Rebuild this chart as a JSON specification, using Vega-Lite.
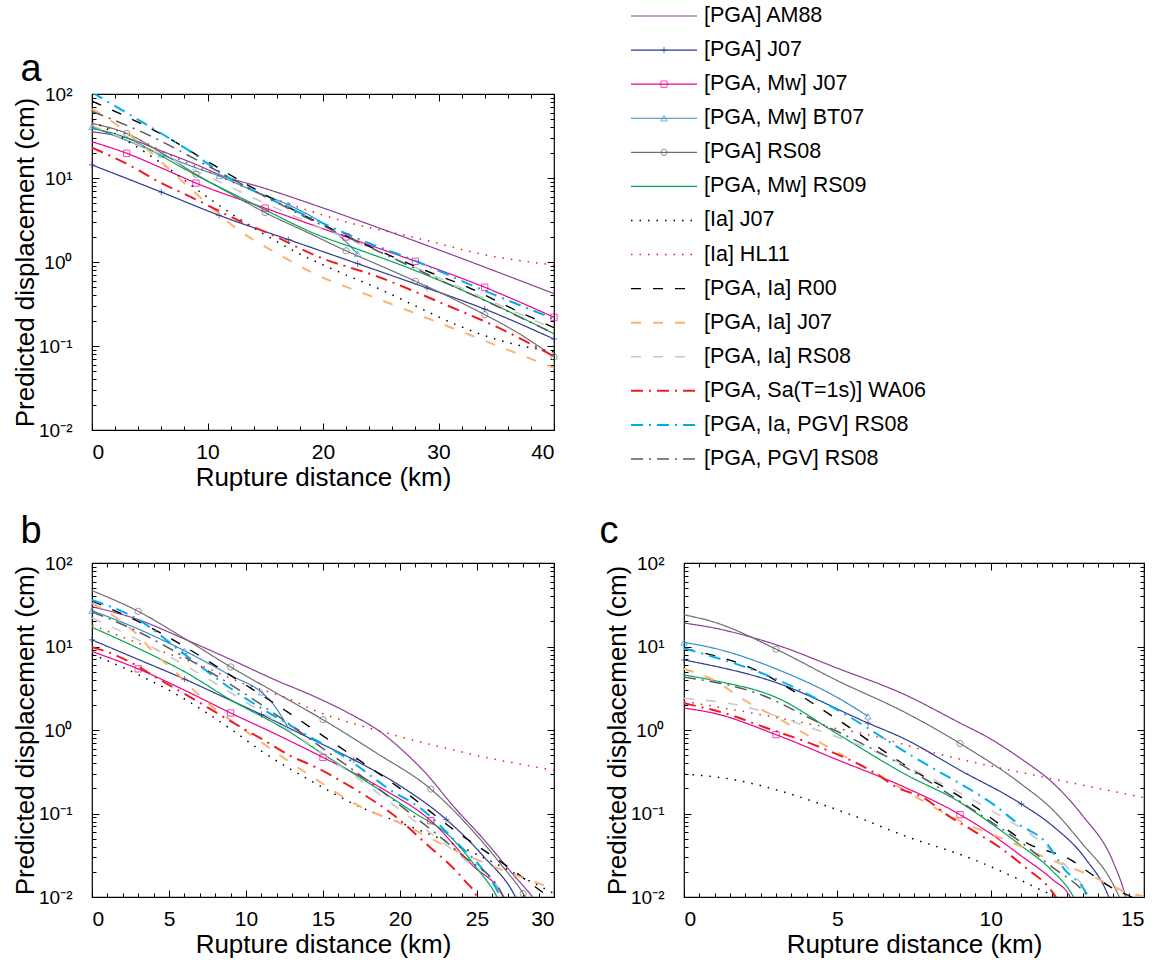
{
"$schema": "https://vega.github.io/schema/vega-lite/v6.json",
"padding": {"left": 11, "top": 4, "right": 5, "bottom": 0},
"config": {
  "view": {"stroke": "#000", "strokeWidth": 1.2},
  "axis": {"labelFont": "Liberation Sans", "labelFontSize": 21, "labelColor": "#000", "titleFont": "Liberation Sans", "titleFontSize": 26, "titleFontWeight": "normal", "titleColor": "#000", "tickColor": "#000", "grid": false, "domain": false, "labelOverlap": false},
  "title": {"font": "Liberation Sans", "fontSize": 38, "fontWeight": "normal", "color": "#000"}
},
"datasets": {
  "legend": [
    {"s": "AM88", "label": "[PGA] AM88"},
    {"s": "J07", "label": "[PGA] J07"},
    {"s": "MwJ07", "label": "[PGA, Mw] J07"},
    {"s": "BT07", "label": "[PGA, Mw] BT07"},
    {"s": "RS08", "label": "[PGA] RS08"},
    {"s": "RS09", "label": "[PGA, Mw] RS09"},
    {"s": "IaJ07", "label": "[Ia] J07"},
    {"s": "HL11", "label": "[Ia] HL11"},
    {"s": "R00", "label": "[PGA, Ia] R00"},
    {"s": "PIaJ07", "label": "[PGA, Ia] J07"},
    {"s": "PIaRS08", "label": "[PGA, Ia] RS08"},
    {"s": "WA06", "label": "[PGA, Sa(T=1s)] WA06"},
    {"s": "PIaPGVRS08", "label": "[PGA, Ia, PGV] RS08"},
    {"s": "PGVRS08", "label": "[PGA, PGV] RS08"}
  ],
  "markers": [
    {"p":"a","s":"J07","x":0,"y":14.3},{"p":"a","s":"J07","x":6,"y":6.8},{"p":"a","s":"J07","x":11,"y":3.6},{"p":"a","s":"J07","x":17,"y":1.85},{"p":"a","s":"J07","x":23,"y":0.955},{"p":"a","s":"J07","x":29,"y":0.49},{"p":"a","s":"J07","x":34,"y":0.275},{"p":"a","s":"J07","x":40,"y":0.121},
    {"p":"a","s":"MwJ07","x":3,"y":19.7},{"p":"a","s":"MwJ07","x":9,"y":8.7},{"p":"a","s":"MwJ07","x":15,"y":4.37},{"p":"a","s":"MwJ07","x":22,"y":1.99},{"p":"a","s":"MwJ07","x":28,"y":1.02},{"p":"a","s":"MwJ07","x":34,"y":0.5},{"p":"a","s":"MwJ07","x":40,"y":0.22},
    {"p":"a","s":"BT07","x":0,"y":40.8},{"p":"a","s":"BT07","x":6,"y":19.1},{"p":"a","s":"BT07","x":11,"y":10.6},{"p":"a","s":"BT07","x":17,"y":4.8},{"p":"a","s":"BT07","x":23,"y":1.25},
    {"p":"a","s":"RS08","x":3,"y":34},{"p":"a","s":"RS08","x":9,"y":11.1},{"p":"a","s":"RS08","x":15,"y":3.87},{"p":"a","s":"RS08","x":22,"y":1.36},{"p":"a","s":"RS08","x":28,"y":0.59},{"p":"a","s":"RS08","x":34,"y":0.236},{"p":"a","s":"RS08","x":40,"y":0.074},
    {"p":"b","s":"J07","x":0,"y":12},{"p":"b","s":"J07","x":6,"y":4.08},{"p":"b","s":"J07","x":11,"y":1.53},{"p":"b","s":"J07","x":17,"y":0.44},{"p":"b","s":"J07","x":23,"y":0.085},
    {"p":"b","s":"MwJ07","x":3,"y":5.4},{"p":"b","s":"MwJ07","x":9,"y":1.6},{"p":"b","s":"MwJ07","x":15,"y":0.47},{"p":"b","s":"MwJ07","x":22,"y":0.082},
    {"p":"b","s":"BT07","x":0,"y":26.9},{"p":"b","s":"BT07","x":6,"y":8.9},{"p":"b","s":"BT07","x":11,"y":2.83},
    {"p":"b","s":"RS08","x":3,"y":26.4},{"p":"b","s":"RS08","x":9,"y":5.7},{"p":"b","s":"RS08","x":15,"y":1.33},{"p":"b","s":"RS08","x":22,"y":0.196},{"p":"b","s":"RS08","x":28,"y":0.011},
    {"p":"c","s":"J07","x":0,"y":6.9},{"p":"c","s":"J07","x":6,"y":1.21},{"p":"c","s":"J07","x":11,"y":0.13},
    {"p":"c","s":"MwJ07","x":3,"y":0.88},{"p":"c","s":"MwJ07","x":9,"y":0.097},
    {"p":"c","s":"BT07","x":0,"y":11.2},{"p":"c","s":"BT07","x":6,"y":1.46},
    {"p":"c","s":"RS08","x":3,"y":9.3},{"p":"c","s":"RS08","x":9,"y":0.69}
  ],
  "lines": [
    {"p":"a","s":"AM88","x":0,"y":35.5},{"p":"a","s":"AM88","x":3,"y":30},{"p":"a","s":"AM88","x":6,"y":21},{"p":"a","s":"AM88","x":9,"y":14.5},{"p":"a","s":"AM88","x":11,"y":11},{"p":"a","s":"AM88","x":15,"y":7.5},{"p":"a","s":"AM88","x":20,"y":4.4},{"p":"a","s":"AM88","x":25,"y":2.5},{"p":"a","s":"AM88","x":30,"y":1.4},{"p":"a","s":"AM88","x":35,"y":0.77},{"p":"a","s":"AM88","x":40,"y":0.42},
    {"p":"a","s":"J07","x":0,"y":14.3},{"p":"a","s":"J07","x":6,"y":6.8},{"p":"a","s":"J07","x":11,"y":3.6},{"p":"a","s":"J07","x":17,"y":1.85},{"p":"a","s":"J07","x":23,"y":0.955},{"p":"a","s":"J07","x":29,"y":0.49},{"p":"a","s":"J07","x":34,"y":0.275},{"p":"a","s":"J07","x":40,"y":0.121},
    {"p":"a","s":"MwJ07","x":0,"y":27},{"p":"a","s":"MwJ07","x":3,"y":19.7},{"p":"a","s":"MwJ07","x":6,"y":13.2},{"p":"a","s":"MwJ07","x":9,"y":8.7},{"p":"a","s":"MwJ07","x":15,"y":4.37},{"p":"a","s":"MwJ07","x":22,"y":1.99},{"p":"a","s":"MwJ07","x":28,"y":1.02},{"p":"a","s":"MwJ07","x":34,"y":0.5},{"p":"a","s":"MwJ07","x":40,"y":0.22},
    {"p":"a","s":"BT07","x":0,"y":40.8},{"p":"a","s":"BT07","x":3,"y":28},{"p":"a","s":"BT07","x":6,"y":19.1},{"p":"a","s":"BT07","x":9,"y":13.2},{"p":"a","s":"BT07","x":11,"y":10.6},{"p":"a","s":"BT07","x":14,"y":7.0},{"p":"a","s":"BT07","x":17,"y":4.8},{"p":"a","s":"BT07","x":19.3,"y":3.3},{"p":"a","s":"BT07","x":21,"y":2.3},{"p":"a","s":"BT07","x":22.1,"y":1.68},{"p":"a","s":"BT07","x":23,"y":1.25},
    {"p":"a","s":"RS08","x":0,"y":44.6},{"p":"a","s":"RS08","x":3,"y":34},{"p":"a","s":"RS08","x":6,"y":20},{"p":"a","s":"RS08","x":9,"y":11.1},{"p":"a","s":"RS08","x":12,"y":6.5},{"p":"a","s":"RS08","x":15,"y":3.87},{"p":"a","s":"RS08","x":18.5,"y":2.3},{"p":"a","s":"RS08","x":22,"y":1.36},{"p":"a","s":"RS08","x":25,"y":0.9},{"p":"a","s":"RS08","x":28,"y":0.59},{"p":"a","s":"RS08","x":31,"y":0.38},{"p":"a","s":"RS08","x":34,"y":0.236},{"p":"a","s":"RS08","x":37,"y":0.14},{"p":"a","s":"RS08","x":40,"y":0.074},
    {"p":"a","s":"RS09","x":0,"y":39},{"p":"a","s":"RS09","x":3,"y":30},{"p":"a","s":"RS09","x":6,"y":18.3},{"p":"a","s":"RS09","x":9,"y":10.8},{"p":"a","s":"RS09","x":12,"y":6.7},{"p":"a","s":"RS09","x":15,"y":4.17},{"p":"a","s":"RS09","x":19.3,"y":2.17},{"p":"a","s":"RS09","x":23,"y":1.42},{"p":"a","s":"RS09","x":27.8,"y":0.81},{"p":"a","s":"RS09","x":33.9,"y":0.356},{"p":"a","s":"RS09","x":40,"y":0.14},
    {"p":"a","s":"IaJ07","x":0,"y":48},{"p":"a","s":"IaJ07","x":3,"y":28},{"p":"a","s":"IaJ07","x":6,"y":15},{"p":"a","s":"IaJ07","x":10,"y":5.9},{"p":"a","s":"IaJ07","x":13,"y":3.1},{"p":"a","s":"IaJ07","x":15,"y":2.1},{"p":"a","s":"IaJ07","x":17.5,"y":1.35},{"p":"a","s":"IaJ07","x":21.5,"y":0.75},{"p":"a","s":"IaJ07","x":25,"y":0.47},{"p":"a","s":"IaJ07","x":28,"y":0.3},{"p":"a","s":"IaJ07","x":31.5,"y":0.18},{"p":"a","s":"IaJ07","x":35,"y":0.12},{"p":"a","s":"IaJ07","x":40,"y":0.085},
    {"p":"a","s":"HL11","x":0,"y":45},{"p":"a","s":"HL11","x":3.3,"y":32},{"p":"a","s":"HL11","x":7,"y":18},{"p":"a","s":"HL11","x":10,"y":12},{"p":"a","s":"HL11","x":15,"y":6.2},{"p":"a","s":"HL11","x":19,"y":4.0},{"p":"a","s":"HL11","x":22,"y":3.0},{"p":"a","s":"HL11","x":28,"y":1.95},{"p":"a","s":"HL11","x":34,"y":1.22},{"p":"a","s":"HL11","x":40,"y":0.92},
    {"p":"a","s":"R00","x":0,"y":82},{"p":"a","s":"R00","x":3.6,"y":49},{"p":"a","s":"R00","x":6.6,"y":30},{"p":"a","s":"R00","x":9.6,"y":17},{"p":"a","s":"R00","x":13,"y":9},{"p":"a","s":"R00","x":18,"y":3.8},{"p":"a","s":"R00","x":24.5,"y":1.43},{"p":"a","s":"R00","x":29.4,"y":0.74},{"p":"a","s":"R00","x":32,"y":0.54},{"p":"a","s":"R00","x":36.6,"y":0.27},{"p":"a","s":"R00","x":40,"y":0.165},
    {"p":"a","s":"PIaJ07","x":0,"y":66},{"p":"a","s":"PIaJ07","x":1,"y":55},{"p":"a","s":"PIaJ07","x":4.5,"y":23.6},{"p":"a","s":"PIaJ07","x":8.6,"y":7.3},{"p":"a","s":"PIaJ07","x":12.4,"y":2.57},{"p":"a","s":"PIaJ07","x":16.5,"y":1.16},{"p":"a","s":"PIaJ07","x":19.6,"y":0.69},{"p":"a","s":"PIaJ07","x":24,"y":0.4},{"p":"a","s":"PIaJ07","x":28,"y":0.244},{"p":"a","s":"PIaJ07","x":32,"y":0.148},{"p":"a","s":"PIaJ07","x":36,"y":0.09},{"p":"a","s":"PIaJ07","x":40,"y":0.055},
    {"p":"a","s":"PIaRS08","x":0,"y":42},{"p":"a","s":"PIaRS08","x":5,"y":22},{"p":"a","s":"PIaRS08","x":10,"y":10.5},{"p":"a","s":"PIaRS08","x":15,"y":5},{"p":"a","s":"PIaRS08","x":20,"y":2.5},{"p":"a","s":"PIaRS08","x":25,"y":1.3},{"p":"a","s":"PIaRS08","x":30,"y":0.65},{"p":"a","s":"PIaRS08","x":35,"y":0.32},{"p":"a","s":"PIaRS08","x":40,"y":0.16},
    {"p":"a","s":"WA06","x":0,"y":23},{"p":"a","s":"WA06","x":3.5,"y":13.6},{"p":"a","s":"WA06","x":5.8,"y":9},{"p":"a","s":"WA06","x":8.4,"y":6.1},{"p":"a","s":"WA06","x":13.1,"y":2.94},{"p":"a","s":"WA06","x":15.6,"y":2.1},{"p":"a","s":"WA06","x":19.3,"y":1.2},{"p":"a","s":"WA06","x":25,"y":0.65},{"p":"a","s":"WA06","x":30.6,"y":0.31},{"p":"a","s":"WA06","x":35,"y":0.17},{"p":"a","s":"WA06","x":40,"y":0.075},
    {"p":"a","s":"PIaPGVRS08","x":0,"y":105},{"p":"a","s":"PIaPGVRS08","x":0.8,"y":90},{"p":"a","s":"PIaPGVRS08","x":5.4,"y":38},{"p":"a","s":"PIaPGVRS08","x":8,"y":23},{"p":"a","s":"PIaPGVRS08","x":12,"y":9.8},{"p":"a","s":"PIaPGVRS08","x":14.6,"y":6.4},{"p":"a","s":"PIaPGVRS08","x":19.3,"y":3.2},{"p":"a","s":"PIaPGVRS08","x":23,"y":1.9},{"p":"a","s":"PIaPGVRS08","x":27.8,"y":1.06},{"p":"a","s":"PIaPGVRS08","x":33.9,"y":0.46},{"p":"a","s":"PIaPGVRS08","x":40,"y":0.21},
    {"p":"a","s":"PGVRS08","x":0,"y":62},{"p":"a","s":"PGVRS08","x":5,"y":32},{"p":"a","s":"PGVRS08","x":10,"y":14},{"p":"a","s":"PGVRS08","x":15,"y":6},{"p":"a","s":"PGVRS08","x":20,"y":2.7},{"p":"a","s":"PGVRS08","x":25,"y":1.3},{"p":"a","s":"PGVRS08","x":30,"y":0.62},{"p":"a","s":"PGVRS08","x":35,"y":0.3},{"p":"a","s":"PGVRS08","x":40,"y":0.14},

    {"p":"b","s":"AM88","x":0,"y":30},{"p":"b","s":"AM88","x":3,"y":21},{"p":"b","s":"AM88","x":6,"y":12.3},{"p":"b","s":"AM88","x":9,"y":7},{"p":"b","s":"AM88","x":12,"y":3.9},{"p":"b","s":"AM88","x":14.55,"y":2.47},{"p":"b","s":"AM88","x":16.7,"y":1.58},{"p":"b","s":"AM88","x":18.9,"y":0.9},{"p":"b","s":"AM88","x":20.5,"y":0.5},{"p":"b","s":"AM88","x":21.7,"y":0.3},{"p":"b","s":"AM88","x":23.5,"y":0.12},{"p":"b","s":"AM88","x":25.4,"y":0.05},{"p":"b","s":"AM88","x":27.3,"y":0.019},{"p":"b","s":"AM88","x":28.7,"y":0.0095},{"p":"b","s":"AM88","x":29.2,"y":0.007},
    {"p":"b","s":"J07","x":0,"y":12},{"p":"b","s":"J07","x":3,"y":7.0},{"p":"b","s":"J07","x":6,"y":4.08},{"p":"b","s":"J07","x":8.5,"y":2.5},{"p":"b","s":"J07","x":11,"y":1.53},{"p":"b","s":"J07","x":14,"y":0.82},{"p":"b","s":"J07","x":17,"y":0.44},{"p":"b","s":"J07","x":20,"y":0.215},{"p":"b","s":"J07","x":23,"y":0.085},{"p":"b","s":"J07","x":25.4,"y":0.031},{"p":"b","s":"J07","x":27.5,"y":0.01},{"p":"b","s":"J07","x":27.9,"y":0.007},
    {"p":"b","s":"MwJ07","x":0,"y":8.7},{"p":"b","s":"MwJ07","x":3,"y":5.4},{"p":"b","s":"MwJ07","x":6,"y":3.0},{"p":"b","s":"MwJ07","x":9,"y":1.6},{"p":"b","s":"MwJ07","x":12,"y":0.88},{"p":"b","s":"MwJ07","x":15,"y":0.47},{"p":"b","s":"MwJ07","x":18.9,"y":0.196},{"p":"b","s":"MwJ07","x":22,"y":0.082},{"p":"b","s":"MwJ07","x":24.7,"y":0.024},{"p":"b","s":"MwJ07","x":26.7,"y":0.01},{"p":"b","s":"MwJ07","x":27,"y":0.007},
    {"p":"b","s":"BT07","x":0,"y":26.9},{"p":"b","s":"BT07","x":3,"y":16.2},{"p":"b","s":"BT07","x":6,"y":8.9},{"p":"b","s":"BT07","x":9,"y":4.5},{"p":"b","s":"BT07","x":11,"y":2.83},{"p":"b","s":"BT07","x":11.8,"y":2.0},{"p":"b","s":"BT07","x":12.7,"y":1.1},
    {"p":"b","s":"RS08","x":0,"y":46.7},{"p":"b","s":"RS08","x":3,"y":26.4},{"p":"b","s":"RS08","x":6,"y":12.5},{"p":"b","s":"RS08","x":9,"y":5.7},{"p":"b","s":"RS08","x":12,"y":2.75},{"p":"b","s":"RS08","x":15,"y":1.33},{"p":"b","s":"RS08","x":18.4,"y":0.54},{"p":"b","s":"RS08","x":22,"y":0.196},{"p":"b","s":"RS08","x":24.9,"y":0.057},{"p":"b","s":"RS08","x":26.6,"y":0.024},{"p":"b","s":"RS08","x":28,"y":0.011},{"p":"b","s":"RS08","x":28.6,"y":0.007},
    {"p":"b","s":"RS09","x":0,"y":17},{"p":"b","s":"RS09","x":3,"y":9.5},{"p":"b","s":"RS09","x":6,"y":5.0},{"p":"b","s":"RS09","x":9,"y":2.3},{"p":"b","s":"RS09","x":12.7,"y":0.98},{"p":"b","s":"RS09","x":14.7,"y":0.56},{"p":"b","s":"RS09","x":18.9,"y":0.18},{"p":"b","s":"RS09","x":21,"y":0.1},{"p":"b","s":"RS09","x":23.2,"y":0.054},{"p":"b","s":"RS09","x":25,"y":0.022},{"p":"b","s":"RS09","x":26.3,"y":0.01},{"p":"b","s":"RS09","x":26.7,"y":0.007},
    {"p":"b","s":"IaJ07","x":0,"y":8.1},{"p":"b","s":"IaJ07","x":3,"y":4.6},{"p":"b","s":"IaJ07","x":5.6,"y":2.6},{"p":"b","s":"IaJ07","x":9,"y":1.03},{"p":"b","s":"IaJ07","x":11,"y":0.56},{"p":"b","s":"IaJ07","x":14.5,"y":0.23},{"p":"b","s":"IaJ07","x":17,"y":0.13},{"p":"b","s":"IaJ07","x":21,"y":0.066},{"p":"b","s":"IaJ07","x":24.9,"y":0.033},{"p":"b","s":"IaJ07","x":27.5,"y":0.019},{"p":"b","s":"IaJ07","x":30,"y":0.011},
    {"p":"b","s":"HL11","x":0,"y":18},{"p":"b","s":"HL11","x":3,"y":11},{"p":"b","s":"HL11","x":7,"y":6},{"p":"b","s":"HL11","x":10,"y":3.5},{"p":"b","s":"HL11","x":12.7,"y":2.4},{"p":"b","s":"HL11","x":14.5,"y":1.7},{"p":"b","s":"HL11","x":18.6,"y":0.98},{"p":"b","s":"HL11","x":21,"y":0.745},{"p":"b","s":"HL11","x":23.4,"y":0.58},{"p":"b","s":"HL11","x":25.8,"y":0.46},{"p":"b","s":"HL11","x":30,"y":0.33},
    {"p":"b","s":"R00","x":0,"y":35},{"p":"b","s":"R00","x":3,"y":20},{"p":"b","s":"R00","x":6,"y":10},{"p":"b","s":"R00","x":9,"y":4.5},{"p":"b","s":"R00","x":12,"y":2.0},{"p":"b","s":"R00","x":15,"y":0.85},{"p":"b","s":"R00","x":18,"y":0.36},{"p":"b","s":"R00","x":20,"y":0.2},{"p":"b","s":"R00","x":23.7,"y":0.06},{"p":"b","s":"R00","x":26.6,"y":0.026},{"p":"b","s":"R00","x":30,"y":0.009},
    {"p":"b","s":"PIaJ07","x":0,"y":33},{"p":"b","s":"PIaJ07","x":1.9,"y":20},{"p":"b","s":"PIaJ07","x":3,"y":13.5},{"p":"b","s":"PIaJ07","x":4.1,"y":8.1},{"p":"b","s":"PIaJ07","x":5.4,"y":5.0},{"p":"b","s":"PIaJ07","x":6.6,"y":3.0},{"p":"b","s":"PIaJ07","x":7.9,"y":1.84},{"p":"b","s":"PIaJ07","x":9.05,"y":1.29},{"p":"b","s":"PIaJ07","x":10.3,"y":0.88},{"p":"b","s":"PIaJ07","x":14.5,"y":0.26},{"p":"b","s":"PIaJ07","x":17.1,"y":0.13},{"p":"b","s":"PIaJ07","x":20.4,"y":0.071},{"p":"b","s":"PIaJ07","x":23.2,"y":0.039},{"p":"b","s":"PIaJ07","x":26.5,"y":0.0216},{"p":"b","s":"PIaJ07","x":30,"y":0.0125},
    {"p":"b","s":"PIaRS08","x":0,"y":22},{"p":"b","s":"PIaRS08","x":3,"y":12},{"p":"b","s":"PIaRS08","x":6,"y":6},{"p":"b","s":"PIaRS08","x":9,"y":2.8},{"p":"b","s":"PIaRS08","x":12,"y":1.25},{"p":"b","s":"PIaRS08","x":15,"y":0.52},{"p":"b","s":"PIaRS08","x":18,"y":0.21},{"p":"b","s":"PIaRS08","x":21,"y":0.08},{"p":"b","s":"PIaRS08","x":24,"y":0.03},{"p":"b","s":"PIaRS08","x":26.5,"y":0.012},{"p":"b","s":"PIaRS08","x":27,"y":0.008},
    {"p":"b","s":"WA06","x":0,"y":9.8},{"p":"b","s":"WA06","x":0.93,"y":8.7},{"p":"b","s":"WA06","x":2.7,"y":6.2},{"p":"b","s":"WA06","x":4.3,"y":4.1},{"p":"b","s":"WA06","x":6.1,"y":2.65},{"p":"b","s":"WA06","x":9.6,"y":1.1},{"p":"b","s":"WA06","x":11.3,"y":0.73},{"p":"b","s":"WA06","x":12.7,"y":0.51},{"p":"b","s":"WA06","x":14.5,"y":0.36},{"p":"b","s":"WA06","x":16.7,"y":0.215},{"p":"b","s":"WA06","x":19.9,"y":0.086},{"p":"b","s":"WA06","x":21.6,"y":0.045},{"p":"b","s":"WA06","x":24.2,"y":0.0157},{"p":"b","s":"WA06","x":25,"y":0.01},{"p":"b","s":"WA06","x":25.3,"y":0.007},
    {"p":"b","s":"PIaPGVRS08","x":0,"y":36},{"p":"b","s":"PIaPGVRS08","x":3,"y":21},{"p":"b","s":"PIaPGVRS08","x":6,"y":8.1},{"p":"b","s":"PIaPGVRS08","x":9.05,"y":3.1},{"p":"b","s":"PIaPGVRS08","x":11.5,"y":1.6},{"p":"b","s":"PIaPGVRS08","x":14.2,"y":0.82},{"p":"b","s":"PIaPGVRS08","x":16.3,"y":0.49},{"p":"b","s":"PIaPGVRS08","x":19.6,"y":0.18},{"p":"b","s":"PIaPGVRS08","x":21.1,"y":0.124},{"p":"b","s":"PIaPGVRS08","x":23.9,"y":0.041},{"p":"b","s":"PIaPGVRS08","x":25.4,"y":0.021},{"p":"b","s":"PIaPGVRS08","x":26.5,"y":0.01},{"p":"b","s":"PIaPGVRS08","x":26.8,"y":0.007},
    {"p":"b","s":"PGVRS08","x":0,"y":26},{"p":"b","s":"PGVRS08","x":3,"y":15},{"p":"b","s":"PGVRS08","x":6,"y":7.5},{"p":"b","s":"PGVRS08","x":9,"y":3.5},{"p":"b","s":"PGVRS08","x":12,"y":1.5},{"p":"b","s":"PGVRS08","x":15,"y":0.6},{"p":"b","s":"PGVRS08","x":18,"y":0.24},{"p":"b","s":"PGVRS08","x":21,"y":0.09},{"p":"b","s":"PGVRS08","x":24,"y":0.032},{"p":"b","s":"PGVRS08","x":26.5,"y":0.012},{"p":"b","s":"PGVRS08","x":27,"y":0.008},

    {"p":"c","s":"AM88","x":0,"y":19.1},{"p":"c","s":"AM88","x":1,"y":16.6},{"p":"c","s":"AM88","x":3,"y":10.5},{"p":"c","s":"AM88","x":5,"y":5.5},{"p":"c","s":"AM88","x":7.2,"y":2.65},{"p":"c","s":"AM88","x":8.95,"y":1.24},{"p":"c","s":"AM88","x":10,"y":0.78},{"p":"c","s":"AM88","x":11,"y":0.45},{"p":"c","s":"AM88","x":12,"y":0.237},{"p":"c","s":"AM88","x":13,"y":0.094},{"p":"c","s":"AM88","x":14,"y":0.026},{"p":"c","s":"AM88","x":14.4,"y":0.01},{"p":"c","s":"AM88","x":14.5,"y":0.007},
    {"p":"c","s":"J07","x":0,"y":6.9},{"p":"c","s":"J07","x":3,"y":3.7},{"p":"c","s":"J07","x":6,"y":1.21},{"p":"c","s":"J07","x":7.2,"y":0.78},{"p":"c","s":"J07","x":9,"y":0.33},{"p":"c","s":"J07","x":11,"y":0.13},{"p":"c","s":"J07","x":12,"y":0.072},{"p":"c","s":"J07","x":13.1,"y":0.0285},{"p":"c","s":"J07","x":13.85,"y":0.01},{"p":"c","s":"J07","x":14,"y":0.007},
    {"p":"c","s":"MwJ07","x":0,"y":1.83},{"p":"c","s":"MwJ07","x":1,"y":1.58},{"p":"c","s":"MwJ07","x":3,"y":0.88},{"p":"c","s":"MwJ07","x":5,"y":0.44},{"p":"c","s":"MwJ07","x":7.2,"y":0.206},{"p":"c","s":"MwJ07","x":9,"y":0.097},{"p":"c","s":"MwJ07","x":10.1,"y":0.054},{"p":"c","s":"MwJ07","x":11,"y":0.031},{"p":"c","s":"MwJ07","x":12,"y":0.0164},{"p":"c","s":"MwJ07","x":12.6,"y":0.01},{"p":"c","s":"MwJ07","x":12.8,"y":0.007},
    {"p":"c","s":"BT07","x":0,"y":11.2},{"p":"c","s":"BT07","x":1,"y":9.5},{"p":"c","s":"BT07","x":3,"y":5.4},{"p":"c","s":"BT07","x":5,"y":2.45},{"p":"c","s":"BT07","x":6,"y":1.46},
    {"p":"c","s":"RS08","x":0,"y":24},{"p":"c","s":"RS08","x":1,"y":19.5},{"p":"c","s":"RS08","x":3,"y":9.3},{"p":"c","s":"RS08","x":5,"y":3.9},{"p":"c","s":"RS08","x":7.2,"y":1.63},{"p":"c","s":"RS08","x":9,"y":0.69},{"p":"c","s":"RS08","x":11,"y":0.225},{"p":"c","s":"RS08","x":12,"y":0.113},{"p":"c","s":"RS08","x":13,"y":0.043},{"p":"c","s":"RS08","x":13.9,"y":0.0164},{"p":"c","s":"RS08","x":14.2,"y":0.01},{"p":"c","s":"RS08","x":14.4,"y":0.007},
    {"p":"c","s":"RS09","x":0,"y":4.56},{"p":"c","s":"RS09","x":1,"y":3.9},{"p":"c","s":"RS09","x":3,"y":2.46},{"p":"c","s":"RS09","x":5,"y":0.9},{"p":"c","s":"RS09","x":7.2,"y":0.297},{"p":"c","s":"RS09","x":9,"y":0.136},{"p":"c","s":"RS09","x":10.1,"y":0.072},{"p":"c","s":"RS09","x":11,"y":0.041},{"p":"c","s":"RS09","x":12,"y":0.0207},{"p":"c","s":"RS09","x":12.7,"y":0.01},{"p":"c","s":"RS09","x":12.9,"y":0.007},
    {"p":"c","s":"IaJ07","x":0,"y":0.297},{"p":"c","s":"IaJ07","x":1.5,"y":0.259},{"p":"c","s":"IaJ07","x":3.1,"y":0.188},{"p":"c","s":"IaJ07","x":4.2,"y":0.14},{"p":"c","s":"IaJ07","x":5.5,"y":0.095},{"p":"c","s":"IaJ07","x":7.2,"y":0.054},{"p":"c","s":"IaJ07","x":9.4,"y":0.0285},{"p":"c","s":"IaJ07","x":10.9,"y":0.0164},{"p":"c","s":"IaJ07","x":11.8,"y":0.0114},{"p":"c","s":"IaJ07","x":12.5,"y":0.009},
    {"p":"c","s":"HL11","x":0,"y":2.2},{"p":"c","s":"HL11","x":2,"y":1.65},{"p":"c","s":"HL11","x":4,"y":1.2},{"p":"c","s":"HL11","x":6,"y":0.88},{"p":"c","s":"HL11","x":8,"y":0.55},{"p":"c","s":"HL11","x":10,"y":0.37},{"p":"c","s":"HL11","x":12,"y":0.26},{"p":"c","s":"HL11","x":15,"y":0.155},
    {"p":"c","s":"R00","x":0,"y":9.5},{"p":"c","s":"R00","x":2.6,"y":4.7},{"p":"c","s":"R00","x":3.4,"y":3.2},{"p":"c","s":"R00","x":5,"y":1.34},{"p":"c","s":"R00","x":7.8,"y":0.28},{"p":"c","s":"R00","x":8.7,"y":0.186},{"p":"c","s":"R00","x":9.5,"y":0.12},{"p":"c","s":"R00","x":10.3,"y":0.074},{"p":"c","s":"R00","x":11.2,"y":0.044},{"p":"c","s":"R00","x":12.6,"y":0.028},{"p":"c","s":"R00","x":13.3,"y":0.0186},{"p":"c","s":"R00","x":14,"y":0.0126},{"p":"c","s":"R00","x":14.6,"y":0.01},{"p":"c","s":"R00","x":15,"y":0.0085},
    {"p":"c","s":"PIaJ07","x":0,"y":5.4},{"p":"c","s":"PIaJ07","x":1,"y":3.9},{"p":"c","s":"PIaJ07","x":2,"y":2.24},{"p":"c","s":"PIaJ07","x":3.1,"y":1.36},{"p":"c","s":"PIaJ07","x":4.55,"y":0.67},{"p":"c","s":"PIaJ07","x":6.7,"y":0.243},{"p":"c","s":"PIaJ07","x":7.45,"y":0.167},{"p":"c","s":"PIaJ07","x":8.9,"y":0.085},{"p":"c","s":"PIaJ07","x":9.6,"y":0.065},{"p":"c","s":"PIaJ07","x":10.4,"y":0.05},{"p":"c","s":"PIaJ07","x":12,"y":0.0275},{"p":"c","s":"PIaJ07","x":12.9,"y":0.0205},{"p":"c","s":"PIaJ07","x":13.6,"y":0.0158},{"p":"c","s":"PIaJ07","x":14.4,"y":0.0115},{"p":"c","s":"PIaJ07","x":15,"y":0.0102},
    {"p":"c","s":"PIaRS08","x":0,"y":2.4},{"p":"c","s":"PIaRS08","x":2,"y":1.9},{"p":"c","s":"PIaRS08","x":4,"y":1.1},{"p":"c","s":"PIaRS08","x":6,"y":0.6},{"p":"c","s":"PIaRS08","x":8,"y":0.27},{"p":"c","s":"PIaRS08","x":10,"y":0.11},{"p":"c","s":"PIaRS08","x":12,"y":0.035},{"p":"c","s":"PIaRS08","x":13.3,"y":0.01},{"p":"c","s":"PIaRS08","x":13.5,"y":0.008},
    {"p":"c","s":"WA06","x":0,"y":2.09},{"p":"c","s":"WA06","x":1.6,"y":1.48},{"p":"c","s":"WA06","x":2.5,"y":1.12},{"p":"c","s":"WA06","x":4.4,"y":0.63},{"p":"c","s":"WA06","x":6.2,"y":0.31},{"p":"c","s":"WA06","x":7,"y":0.2},{"p":"c","s":"WA06","x":7.75,"y":0.158},{"p":"c","s":"WA06","x":8.7,"y":0.09},{"p":"c","s":"WA06","x":9.5,"y":0.06},{"p":"c","s":"WA06","x":10.35,"y":0.038},{"p":"c","s":"WA06","x":11.2,"y":0.0216},{"p":"c","s":"WA06","x":11.9,"y":0.013},{"p":"c","s":"WA06","x":12.3,"y":0.008},
    {"p":"c","s":"PIaPGVRS08","x":0,"y":9.5},{"p":"c","s":"PIaPGVRS08","x":3,"y":4.08},{"p":"c","s":"PIaPGVRS08","x":5,"y":1.74},{"p":"c","s":"PIaPGVRS08","x":7.6,"y":0.45},{"p":"c","s":"PIaPGVRS08","x":8.5,"y":0.29},{"p":"c","s":"PIaPGVRS08","x":9.3,"y":0.197},{"p":"c","s":"PIaPGVRS08","x":10.15,"y":0.124},{"p":"c","s":"PIaPGVRS08","x":10.9,"y":0.075},{"p":"c","s":"PIaPGVRS08","x":11.8,"y":0.045},{"p":"c","s":"PIaPGVRS08","x":12.4,"y":0.0216},{"p":"c","s":"PIaPGVRS08","x":13.1,"y":0.0114},{"p":"c","s":"PIaPGVRS08","x":13.3,"y":0.008},
    {"p":"c","s":"PGVRS08","x":0,"y":4.3},{"p":"c","s":"PGVRS08","x":2.5,"y":2.65},{"p":"c","s":"PGVRS08","x":4.2,"y":1.33},{"p":"c","s":"PGVRS08","x":6,"y":0.63},{"p":"c","s":"PGVRS08","x":6.9,"y":0.42},{"p":"c","s":"PGVRS08","x":8,"y":0.24},{"p":"c","s":"PGVRS08","x":9,"y":0.14},{"p":"c","s":"PGVRS08","x":10,"y":0.08},{"p":"c","s":"PGVRS08","x":11,"y":0.045},{"p":"c","s":"PGVRS08","x":12,"y":0.023},{"p":"c","s":"PGVRS08","x":13,"y":0.012},{"p":"c","s":"PGVRS08","x":13.3,"y":0.009}
  ]
},
"columns": 2,
"spacing": {"row": 133, "column": 130},
"bounds": "flush",
"concat": [
  {
    "width": 462, "height": 336,
    "title": {"text": "a", "anchor": "start", "frame": "bounds", "baseline": "alphabetic", "offset": 16, "dx": 8, "dy": 50},
    "resolve": {"axis": {"x": "independent", "y": "independent"}},
    "layer": [
      {"data": {"name": "lines"}, "transform": [{"filter": "datum.p === 'a'"}],
       "mark": {"type": "line", "clip": true, "interpolate": "monotone"},
       "encoding": {
         "x": {"field": "x", "type": "quantitative", "scale": {"domain": [0, 40], "nice": false, "zero": false}, "axis": {"orient": "bottom", "values": [0, 10, 20, 30, 40], "ticks": false, "tickSize": 0, "labelPadding": 11, "title": "Rupture distance (km)", "titlePadding": 2}},
         "y": {"field": "y", "type": "quantitative", "scale": {"type": "log", "domain": [0.01, 100], "nice": false}, "axis": {"orient": "left", "values": [0.01, 0.1, 1, 10, 100], "ticks": false, "tickSize": 0, "labelPadding": 20, "labelFontSize": 19, "title": "Predicted displacement (cm)", "titlePadding": 0, "labelExpr": "datum.value >= 99 ? '10²' : datum.value >= 9 ? '10¹' : datum.value >= 0.9 ? '10⁰' : datum.value >= 0.09 ? '10⁻¹' : '10⁻²'"}},
         "color": {"field": "s", "type": "nominal", "scale": {"domain": ["AM88","J07","MwJ07","BT07","RS08","RS09","IaJ07","HL11","R00","PIaJ07","PIaRS08","WA06","PIaPGVRS08","PGVRS08"], "range": ["#8E3C97","#2B3990","#EC008C","#3A8CC4","#6D6E71","#00A651","#000000","#ED1C24","#000000","#FBB273","#C8C8C8","#ED1C24","#00AEEF","#58595B"]}, "legend": null},
         "strokeDash": {"field": "s", "type": "nominal", "scale": {"domain": ["AM88","J07","MwJ07","BT07","RS08","RS09","IaJ07","HL11","R00","PIaJ07","PIaRS08","WA06","PIaPGVRS08","PGVRS08"], "range": [[1,0],[1,0],[1,0],[1,0],[1,0],[1,0],[1.5,7],[1.5,7],[10,12],[10,12],[10,12],[12,6,2,6],[12,6,2,6],[12,6,2,6]]}, "legend": null},
         "strokeWidth": {"field": "s", "type": "nominal", "scale": {"type": "ordinal", "domain": ["AM88","J07","MwJ07","BT07","RS08","RS09","IaJ07","HL11","R00","PIaJ07","PIaRS08","WA06","PIaPGVRS08","PGVRS08"], "range": [1.2,1.2,1.2,1.2,1.2,1.2,1.5,1.5,1.4,2,1.6,2,2,1.5]}, "legend": null}
       }},
      {"data": {"name": "markers"}, "transform": [{"filter": "datum.p === 'a'"}],
       "mark": {"type": "point", "filled": false, "strokeWidth": 1, "size": 40},
       "encoding": {
         "x": {"field": "x", "type": "quantitative", "scale": {"domain": [0, 40], "nice": false, "zero": false}, "axis": {"orient": "bottom", "values": [0, 10, 20, 30, 40], "labels": false, "tickSize": -7, "title": null}},
         "y": {"field": "y", "type": "quantitative", "scale": {"type": "log", "domain": [0.01, 100], "nice": false}, "axis": {"orient": "left", "values": [0.01, 0.1, 1, 10, 100], "labels": false, "tickSize": -7, "title": null}},
         "color": {"field": "s", "type": "nominal", "legend": null},
         "shape": {"field": "s", "type": "nominal", "scale": {"domain": ["J07","MwJ07","BT07","RS08"], "range": ["M-1,0L1,0M0,-1L0,1","square","triangle-up","circle"]}, "legend": null}
       }},
      {"data": {"values": [{}]}, "mark": {"type": "point", "opacity": 0},
       "encoding": {
         "x": {"datum": 0, "type": "quantitative", "scale": {"domain": [0, 40], "nice": false, "zero": false}, "axis": {"orient": "top", "values": [0, 10, 20, 30, 40], "labels": false, "tickSize": -7, "title": null}},
         "y": {"datum": 1, "type": "quantitative", "scale": {"type": "log", "domain": [0.01, 100], "nice": false}, "axis": {"orient": "right", "values": [0.01, 0.1, 1, 10, 100], "labels": false, "tickSize": -7, "title": null}}
       }},
      {"data": {"values": [{}]}, "mark": {"type": "point", "opacity": 0},
       "encoding": {
         "x": {"datum": 0, "type": "quantitative", "scale": {"domain": [0, 40], "nice": false, "zero": false}, "axis": {"orient": "bottom", "values": [2,4,6,8,12,14,16,18,22,24,26,28,32,34,36,38], "labels": false, "tickSize": -4, "title": null}},
         "y": {"datum": 1, "type": "quantitative", "scale": {"type": "log", "domain": [0.01, 100], "nice": false}, "axis": {"orient": "left", "values": [0.02,0.03,0.04,0.05,0.06,0.07,0.08,0.09,0.2,0.3,0.4,0.5,0.6,0.7,0.8,0.9,2,3,4,5,6,7,8,9,20,30,40,50,60,70,80,90], "labels": false, "tickSize": -4, "title": null}}
       }},
      {"data": {"values": [{}]}, "mark": {"type": "point", "opacity": 0},
       "encoding": {
         "x": {"datum": 0, "type": "quantitative", "scale": {"domain": [0, 40], "nice": false, "zero": false}, "axis": {"orient": "top", "values": [2,4,6,8,12,14,16,18,22,24,26,28,32,34,36,38], "labels": false, "tickSize": -4, "title": null}},
         "y": {"datum": 1, "type": "quantitative", "scale": {"type": "log", "domain": [0.01, 100], "nice": false}, "axis": {"orient": "right", "values": [0.02,0.03,0.04,0.05,0.06,0.07,0.08,0.09,0.2,0.3,0.4,0.5,0.6,0.7,0.8,0.9,2,3,4,5,6,7,8,9,20,30,40,50,60,70,80,90], "labels": false, "tickSize": -4, "title": null}}
       }}
    ]
  },
  {
    "width": 300, "height": 336,
    "view": {"stroke": null},
    "data": {"name": "legend"},
    "layer": [
      {"mark": {"type": "rule"},
       "encoding": {
         "x": {"datum": 0, "type": "quantitative", "scale": {"domain": [0, 300], "range": [-53, 247], "zero": false, "nice": false}, "axis": null},
         "x2": {"datum": 66},
         "y": {"field": "s", "type": "nominal", "sort": null, "scale": {"type": "point", "domain": ["AM88","J07","MwJ07","BT07","RS08","RS09","IaJ07","HL11","R00","PIaJ07","PIaRS08","WA06","PIaPGVRS08","PGVRS08"], "range": [-78, 365], "padding": 0}, "axis": null},
         "color": {"field": "s", "type": "nominal", "scale": {"domain": ["AM88","J07","MwJ07","BT07","RS08","RS09","IaJ07","HL11","R00","PIaJ07","PIaRS08","WA06","PIaPGVRS08","PGVRS08"], "range": ["#8E3C97","#2B3990","#EC008C","#3A8CC4","#6D6E71","#00A651","#000000","#ED1C24","#000000","#FBB273","#C8C8C8","#ED1C24","#00AEEF","#58595B"]}, "legend": null},
         "strokeDash": {"field": "s", "type": "nominal", "scale": {"domain": ["AM88","J07","MwJ07","BT07","RS08","RS09","IaJ07","HL11","R00","PIaJ07","PIaRS08","WA06","PIaPGVRS08","PGVRS08"], "range": [[1,0],[1,0],[1,0],[1,0],[1,0],[1,0],[1.5,7],[1.5,7],[10,12],[10,12],[10,12],[12,6,2,6],[12,6,2,6],[12,6,2,6]]}, "legend": null},
         "strokeWidth": {"field": "s", "type": "nominal", "scale": {"type": "ordinal", "domain": ["AM88","J07","MwJ07","BT07","RS08","RS09","IaJ07","HL11","R00","PIaJ07","PIaRS08","WA06","PIaPGVRS08","PGVRS08"], "range": [1.2,1.2,1.2,1.2,1.2,1.2,1.5,1.5,1.4,2,1.6,2,2,1.5]}, "legend": null}
       }},
      {"transform": [{"filter": {"field": "s", "oneOf": ["J07","MwJ07","BT07","RS08"]}}],
       "mark": {"type": "point", "filled": false, "strokeWidth": 1, "size": 40},
       "encoding": {
         "x": {"datum": 33, "type": "quantitative", "scale": {"domain": [0, 300], "range": [-53, 247], "zero": false, "nice": false}, "axis": null},
         "y": {"field": "s", "type": "nominal", "sort": null, "scale": {"type": "point", "domain": ["AM88","J07","MwJ07","BT07","RS08","RS09","IaJ07","HL11","R00","PIaJ07","PIaRS08","WA06","PIaPGVRS08","PGVRS08"], "range": [-78, 365], "padding": 0}, "axis": null},
         "color": {"field": "s", "type": "nominal", "legend": null},
         "shape": {"field": "s", "type": "nominal", "scale": {"domain": ["J07","MwJ07","BT07","RS08"], "range": ["M-1,0L1,0M0,-1L0,1","square","triangle-up","circle"]}, "legend": null}
       }},
      {"mark": {"type": "text", "align": "left", "baseline": "middle", "fontSize": 21.5, "font": "Liberation Sans", "color": "#000"},
       "encoding": {
         "x": {"datum": 73, "type": "quantitative", "scale": {"domain": [0, 300], "range": [-53, 247], "zero": false, "nice": false}, "axis": null},
         "y": {"field": "s", "type": "nominal", "sort": null, "scale": {"type": "point", "domain": ["AM88","J07","MwJ07","BT07","RS08","RS09","IaJ07","HL11","R00","PIaJ07","PIaRS08","WA06","PIaPGVRS08","PGVRS08"], "range": [-78, 365], "padding": 0}, "axis": null},
         "text": {"field": "label"}
       }}
    ]
  },
  {
    "width": 462, "height": 334,
    "title": {"text": "b", "anchor": "start", "frame": "bounds", "baseline": "alphabetic", "offset": 16, "dx": 8, "dy": 43},
    "resolve": {"axis": {"x": "independent", "y": "independent"}},
    "layer": [
      {"data": {"name": "lines"}, "transform": [{"filter": "datum.p === 'b'"}],
       "mark": {"type": "line", "clip": true, "interpolate": "monotone"},
       "encoding": {
         "x": {"field": "x", "type": "quantitative", "scale": {"domain": [0, 30], "nice": false, "zero": false}, "axis": {"orient": "bottom", "values": [0, 5, 10, 15, 20, 25, 30], "ticks": false, "tickSize": 0, "labelPadding": 11, "title": "Rupture distance (km)", "titlePadding": 2}},
         "y": {"field": "y", "type": "quantitative", "scale": {"type": "log", "domain": [0.01, 100], "nice": false}, "axis": {"orient": "left", "values": [0.01, 0.1, 1, 10, 100], "ticks": false, "tickSize": 0, "labelPadding": 20, "labelFontSize": 19, "title": "Predicted displacement (cm)", "titlePadding": 0, "labelExpr": "datum.value >= 99 ? '10²' : datum.value >= 9 ? '10¹' : datum.value >= 0.9 ? '10⁰' : datum.value >= 0.09 ? '10⁻¹' : '10⁻²'"}},
         "color": {"field": "s", "type": "nominal", "scale": {"domain": ["AM88","J07","MwJ07","BT07","RS08","RS09","IaJ07","HL11","R00","PIaJ07","PIaRS08","WA06","PIaPGVRS08","PGVRS08"], "range": ["#8E3C97","#2B3990","#EC008C","#3A8CC4","#6D6E71","#00A651","#000000","#ED1C24","#000000","#FBB273","#C8C8C8","#ED1C24","#00AEEF","#58595B"]}, "legend": null},
         "strokeDash": {"field": "s", "type": "nominal", "scale": {"domain": ["AM88","J07","MwJ07","BT07","RS08","RS09","IaJ07","HL11","R00","PIaJ07","PIaRS08","WA06","PIaPGVRS08","PGVRS08"], "range": [[1,0],[1,0],[1,0],[1,0],[1,0],[1,0],[1.5,7],[1.5,7],[10,12],[10,12],[10,12],[12,6,2,6],[12,6,2,6],[12,6,2,6]]}, "legend": null},
         "strokeWidth": {"field": "s", "type": "nominal", "scale": {"type": "ordinal", "domain": ["AM88","J07","MwJ07","BT07","RS08","RS09","IaJ07","HL11","R00","PIaJ07","PIaRS08","WA06","PIaPGVRS08","PGVRS08"], "range": [1.2,1.2,1.2,1.2,1.2,1.2,1.5,1.5,1.4,2,1.6,2,2,1.5]}, "legend": null}
       }},
      {"data": {"name": "markers"}, "transform": [{"filter": "datum.p === 'b'"}],
       "mark": {"type": "point", "filled": false, "strokeWidth": 1, "size": 40},
       "encoding": {
         "x": {"field": "x", "type": "quantitative", "scale": {"domain": [0, 30], "nice": false, "zero": false}, "axis": {"orient": "bottom", "values": [0, 5, 10, 15, 20, 25, 30], "labels": false, "tickSize": -7, "title": null}},
         "y": {"field": "y", "type": "quantitative", "scale": {"type": "log", "domain": [0.01, 100], "nice": false}, "axis": {"orient": "left", "values": [0.01, 0.1, 1, 10, 100], "labels": false, "tickSize": -7, "title": null}},
         "color": {"field": "s", "type": "nominal", "legend": null},
         "shape": {"field": "s", "type": "nominal", "scale": {"domain": ["J07","MwJ07","BT07","RS08"], "range": ["M-1,0L1,0M0,-1L0,1","square","triangle-up","circle"]}, "legend": null}
       }},
      {"data": {"values": [{}]}, "mark": {"type": "point", "opacity": 0},
       "encoding": {
         "x": {"datum": 0, "type": "quantitative", "scale": {"domain": [0, 30], "nice": false, "zero": false}, "axis": {"orient": "top", "values": [0, 5, 10, 15, 20, 25, 30], "labels": false, "tickSize": -7, "title": null}},
         "y": {"datum": 1, "type": "quantitative", "scale": {"type": "log", "domain": [0.01, 100], "nice": false}, "axis": {"orient": "right", "values": [0.01, 0.1, 1, 10, 100], "labels": false, "tickSize": -7, "title": null}}
       }},
      {"data": {"values": [{}]}, "mark": {"type": "point", "opacity": 0},
       "encoding": {
         "x": {"datum": 0, "type": "quantitative", "scale": {"domain": [0, 30], "nice": false, "zero": false}, "axis": {"orient": "bottom", "values": [1,2,3,4,6,7,8,9,11,12,13,14,16,17,18,19,21,22,23,24,26,27,28,29], "labels": false, "tickSize": -4, "title": null}},
         "y": {"datum": 1, "type": "quantitative", "scale": {"type": "log", "domain": [0.01, 100], "nice": false}, "axis": {"orient": "left", "values": [0.02,0.03,0.04,0.05,0.06,0.07,0.08,0.09,0.2,0.3,0.4,0.5,0.6,0.7,0.8,0.9,2,3,4,5,6,7,8,9,20,30,40,50,60,70,80,90], "labels": false, "tickSize": -4, "title": null}}
       }},
      {"data": {"values": [{}]}, "mark": {"type": "point", "opacity": 0},
       "encoding": {
         "x": {"datum": 0, "type": "quantitative", "scale": {"domain": [0, 30], "nice": false, "zero": false}, "axis": {"orient": "top", "values": [1,2,3,4,6,7,8,9,11,12,13,14,16,17,18,19,21,22,23,24,26,27,28,29], "labels": false, "tickSize": -4, "title": null}},
         "y": {"datum": 1, "type": "quantitative", "scale": {"type": "log", "domain": [0.01, 100], "nice": false}, "axis": {"orient": "right", "values": [0.02,0.03,0.04,0.05,0.06,0.07,0.08,0.09,0.2,0.3,0.4,0.5,0.6,0.7,0.8,0.9,2,3,4,5,6,7,8,9,20,30,40,50,60,70,80,90], "labels": false, "tickSize": -4, "title": null}}
       }}
    ]
  },
  {
    "width": 460, "height": 334,
    "title": {"text": "c", "anchor": "start", "frame": "bounds", "baseline": "alphabetic", "offset": 16, "dx": -5, "dy": 43},
    "resolve": {"axis": {"x": "independent", "y": "independent"}},
    "layer": [
      {"data": {"name": "lines"}, "transform": [{"filter": "datum.p === 'c'"}],
       "mark": {"type": "line", "clip": true, "interpolate": "monotone"},
       "encoding": {
         "x": {"field": "x", "type": "quantitative", "scale": {"domain": [0, 15], "nice": false, "zero": false}, "axis": {"orient": "bottom", "values": [0, 5, 10, 15], "ticks": false, "tickSize": 0, "labelPadding": 11, "title": "Rupture distance (km)", "titlePadding": 2}},
         "y": {"field": "y", "type": "quantitative", "scale": {"type": "log", "domain": [0.01, 100], "nice": false}, "axis": {"orient": "left", "values": [0.01, 0.1, 1, 10, 100], "ticks": false, "tickSize": 0, "labelPadding": 20, "labelFontSize": 19, "title": "Predicted displacement (cm)", "titlePadding": 0, "labelExpr": "datum.value >= 99 ? '10²' : datum.value >= 9 ? '10¹' : datum.value >= 0.9 ? '10⁰' : datum.value >= 0.09 ? '10⁻¹' : '10⁻²'"}},
         "color": {"field": "s", "type": "nominal", "scale": {"domain": ["AM88","J07","MwJ07","BT07","RS08","RS09","IaJ07","HL11","R00","PIaJ07","PIaRS08","WA06","PIaPGVRS08","PGVRS08"], "range": ["#8E3C97","#2B3990","#EC008C","#3A8CC4","#6D6E71","#00A651","#000000","#ED1C24","#000000","#FBB273","#C8C8C8","#ED1C24","#00AEEF","#58595B"]}, "legend": null},
         "strokeDash": {"field": "s", "type": "nominal", "scale": {"domain": ["AM88","J07","MwJ07","BT07","RS08","RS09","IaJ07","HL11","R00","PIaJ07","PIaRS08","WA06","PIaPGVRS08","PGVRS08"], "range": [[1,0],[1,0],[1,0],[1,0],[1,0],[1,0],[1.5,7],[1.5,7],[10,12],[10,12],[10,12],[12,6,2,6],[12,6,2,6],[12,6,2,6]]}, "legend": null},
         "strokeWidth": {"field": "s", "type": "nominal", "scale": {"type": "ordinal", "domain": ["AM88","J07","MwJ07","BT07","RS08","RS09","IaJ07","HL11","R00","PIaJ07","PIaRS08","WA06","PIaPGVRS08","PGVRS08"], "range": [1.2,1.2,1.2,1.2,1.2,1.2,1.5,1.5,1.4,2,1.6,2,2,1.5]}, "legend": null}
       }},
      {"data": {"name": "markers"}, "transform": [{"filter": "datum.p === 'c'"}],
       "mark": {"type": "point", "filled": false, "strokeWidth": 1, "size": 40},
       "encoding": {
         "x": {"field": "x", "type": "quantitative", "scale": {"domain": [0, 15], "nice": false, "zero": false}, "axis": {"orient": "bottom", "values": [0, 5, 10, 15], "labels": false, "tickSize": -7, "title": null}},
         "y": {"field": "y", "type": "quantitative", "scale": {"type": "log", "domain": [0.01, 100], "nice": false}, "axis": {"orient": "left", "values": [0.01, 0.1, 1, 10, 100], "labels": false, "tickSize": -7, "title": null}},
         "color": {"field": "s", "type": "nominal", "legend": null},
         "shape": {"field": "s", "type": "nominal", "scale": {"domain": ["J07","MwJ07","BT07","RS08"], "range": ["M-1,0L1,0M0,-1L0,1","square","triangle-up","circle"]}, "legend": null}
       }},
      {"data": {"values": [{}]}, "mark": {"type": "point", "opacity": 0},
       "encoding": {
         "x": {"datum": 0, "type": "quantitative", "scale": {"domain": [0, 15], "nice": false, "zero": false}, "axis": {"orient": "top", "values": [0, 5, 10, 15], "labels": false, "tickSize": -7, "title": null}},
         "y": {"datum": 1, "type": "quantitative", "scale": {"type": "log", "domain": [0.01, 100], "nice": false}, "axis": {"orient": "right", "values": [0.01, 0.1, 1, 10, 100], "labels": false, "tickSize": -7, "title": null}}
       }},
      {"data": {"values": [{}]}, "mark": {"type": "point", "opacity": 0},
       "encoding": {
         "x": {"datum": 0, "type": "quantitative", "scale": {"domain": [0, 15], "nice": false, "zero": false}, "axis": {"orient": "bottom", "values": [0.5,1,1.5,2,2.5,3,3.5,4,4.5,5.5,6,6.5,7,7.5,8,8.5,9,9.5,10.5,11,11.5,12,12.5,13,13.5,14,14.5], "labels": false, "tickSize": -4, "title": null}},
         "y": {"datum": 1, "type": "quantitative", "scale": {"type": "log", "domain": [0.01, 100], "nice": false}, "axis": {"orient": "left", "values": [0.02,0.03,0.04,0.05,0.06,0.07,0.08,0.09,0.2,0.3,0.4,0.5,0.6,0.7,0.8,0.9,2,3,4,5,6,7,8,9,20,30,40,50,60,70,80,90], "labels": false, "tickSize": -4, "title": null}}
       }},
      {"data": {"values": [{}]}, "mark": {"type": "point", "opacity": 0},
       "encoding": {
         "x": {"datum": 0, "type": "quantitative", "scale": {"domain": [0, 15], "nice": false, "zero": false}, "axis": {"orient": "top", "values": [0.5,1,1.5,2,2.5,3,3.5,4,4.5,5.5,6,6.5,7,7.5,8,8.5,9,9.5,10.5,11,11.5,12,12.5,13,13.5,14,14.5], "labels": false, "tickSize": -4, "title": null}},
         "y": {"datum": 1, "type": "quantitative", "scale": {"type": "log", "domain": [0.01, 100], "nice": false}, "axis": {"orient": "right", "values": [0.02,0.03,0.04,0.05,0.06,0.07,0.08,0.09,0.2,0.3,0.4,0.5,0.6,0.7,0.8,0.9,2,3,4,5,6,7,8,9,20,30,40,50,60,70,80,90], "labels": false, "tickSize": -4, "title": null}}
       }}
    ]
  }
]
}
